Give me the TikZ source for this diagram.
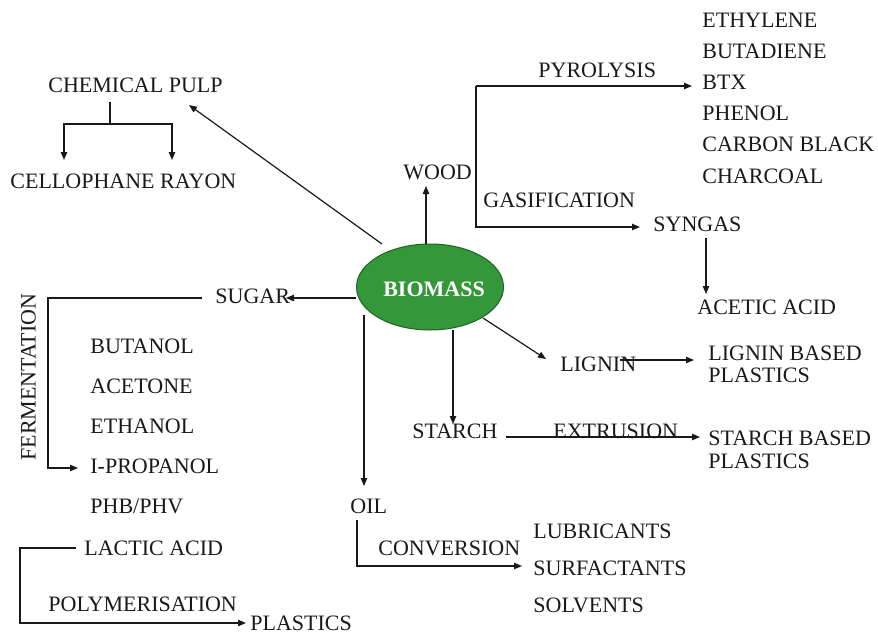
\documentclass[tikz,border=0pt]{standalone}
\usepackage{fontspec}
\setmainfont{Liberation Serif}
\usetikzlibrary{arrows.meta,shapes.geometric}
\definecolor{biogreen}{RGB}{52,152,58}
\definecolor{bioedge}{RGB}{30,100,35}
\definecolor{ink}{RGB}{25,25,25}
\begin{document}
\begin{tikzpicture}[x=0.5pt,y=-0.5pt,
 lbl/.style={anchor=west,inner sep=0pt,text height=7.2pt,text depth=0pt,font=\fontsize{11}{13}\selectfont,text=ink},
 conn/.style={draw=ink,line width=0.6pt},
 arr/.style={conn,-{Triangle[length=4pt,width=3.2pt]}}]
\useasboundingbox (0,0) rectangle (878,632);
% central node
\node[ellipse,fill=biogreen,draw=bioedge,line width=0.5pt,minimum width=73.5pt,minimum height=43pt,inner sep=0pt] (biomass) at (430,287) {};
\node[inner sep=0pt,text=white,text height=7.4pt,text depth=0pt,font=\fontsize{11}{13}\selectfont\bfseries] (biotext) at (434,289) {BIOMASS};
% labels
\node[lbl] (pulp) at (48,85) {CHEMICAL PULP};
\node[lbl] (cello) at (10,181) {CELLOPHANE RAYON};
\node[lbl] (wood) at (403,172) {WOOD};
\node[lbl] (pyro) at (538,70) {PYROLYSIS};
\node[lbl] (gasif) at (483,200) {GASIFICATION};
\node[lbl] (eth) at (702,20) {ETHYLENE};
\node[lbl] (buta) at (702,51) {BUTADIENE};
\node[lbl] (btx) at (702,82) {BTX};
\node[lbl] (phenol) at (702,113) {PHENOL};
\node[lbl] (cb) at (702,144) {CARBON BLACK};
\node[lbl] (charcoal) at (702,176) {CHARCOAL};
\node[lbl] (syngas) at (653,224) {SYNGAS};
\node[lbl] (acetic) at (697,307) {ACETIC ACID};
\node[lbl] (lignin) at (560,364) {LIGNIN};
\node[lbl] (ligninb) at (708,353) {LIGNIN BASED};
\node[lbl] (ligninp) at (708,375) {PLASTICS};
\node[lbl] (starch) at (412,431) {STARCH};
\node[lbl] (extr) at (553,431) {EXTRUSION};
\node[lbl] (starchb) at (708,438) {STARCH BASED};
\node[lbl] (starchp) at (708,461) {PLASTICS};
\node[lbl] (oil) at (350,506) {OIL};
\node[lbl] (conv) at (378,548) {CONVERSION};
\node[lbl] (lub) at (533,531) {LUBRICANTS};
\node[lbl] (surf) at (533,568) {SURFACTANTS};
\node[lbl] (solv) at (533,605) {SOLVENTS};
\node[lbl] (sugar) at (215,296) {SUGAR};
\node[lbl] (butanol) at (90,346) {BUTANOL};
\node[lbl] (acetone) at (90,386) {ACETONE};
\node[lbl] (ethanol) at (90,426) {ETHANOL};
\node[lbl] (iprop) at (90,466) {I-PROPANOL};
\node[lbl] (phb) at (90,506) {PHB/PHV};
\node[lbl] (lactic) at (84,548) {LACTIC ACID};
\node[lbl] (polym) at (48,604) {POLYMERISATION};
\node[lbl] (plastics) at (250,623) {PLASTICS};
\node[lbl,anchor=center,rotate=90] (ferm) at (28.5,377) {FERMENTATION};
% coordinates
\coordinate (pulpstem) at (110,102);
\coordinate (pulpfork) at (110,124);
\coordinate (celloL) at (64,160);
\coordinate (celloR) at (172,160);
\coordinate (bioNW) at (382,244);
\coordinate (pulpTip) at (189,105);
\coordinate (bioTop) at (426,244);
\coordinate (woodTip) at (426,186);
\coordinate (pyroTop) at (476,86);
\coordinate (pyroBot) at (476,227);
\coordinate (btxTip) at (692,86);
\coordinate (syngasTip) at (640,227);
\coordinate (synBot) at (706,238);
\coordinate (aceticTip) at (706,294);
\coordinate (bioSE) at (483,318);
\coordinate (ligninTip) at (546,359);
\coordinate (ligninOut) at (620,360);
\coordinate (ligninbTip) at (694,360);
\coordinate (bioS) at (453,330);
\coordinate (starchTip) at (453,424);
\coordinate (starchOut) at (506,437);
\coordinate (starchbTip) at (700,437);
\coordinate (bioSW) at (364,315);
\coordinate (oilTip) at (364,486);
\coordinate (oilOut) at (357,520);
\coordinate (surfTip) at (522,566);
\coordinate (bioW) at (356,298);
\coordinate (sugarTip) at (286,298);
\coordinate (sugarOut) at (202,298);
\coordinate (fermL) at (48,298);
\coordinate (ipropTip) at (78,468);
\coordinate (lacticOut) at (76,548);
\coordinate (lacticL) at (20,548);
\coordinate (plasticsTip) at (246,623);
% connectors
\draw[conn] (pulpstem) -- (pulpfork);
\draw[arr] (pulpfork) -| (celloL);
\draw[arr] (pulpfork) -| (celloR);
\draw[arr] (bioNW) -- (pulpTip);
\draw[arr] (bioTop) -- (woodTip);
\draw[arr] (pyroTop) -- (btxTip);
\draw[arr] (pyroTop) -- (pyroBot) -- (syngasTip);
\draw[arr] (synBot) -- (aceticTip);
\draw[arr] (bioSE) -- (ligninTip);
\draw[arr] (ligninOut) -- (ligninbTip);
\draw[arr] (bioS) -- (starchTip);
\draw[arr] (starchOut) -- (starchbTip);
\draw[arr] (bioSW) -- (oilTip);
\draw[arr] (oilOut) |- (surfTip);
\draw[arr] (bioW) -- (sugarTip);
\draw[arr] (sugarOut) -- (fermL) |- (ipropTip);
\draw[arr] (lacticOut) -- (lacticL) |- (plasticsTip);
\end{tikzpicture}
\end{document}
